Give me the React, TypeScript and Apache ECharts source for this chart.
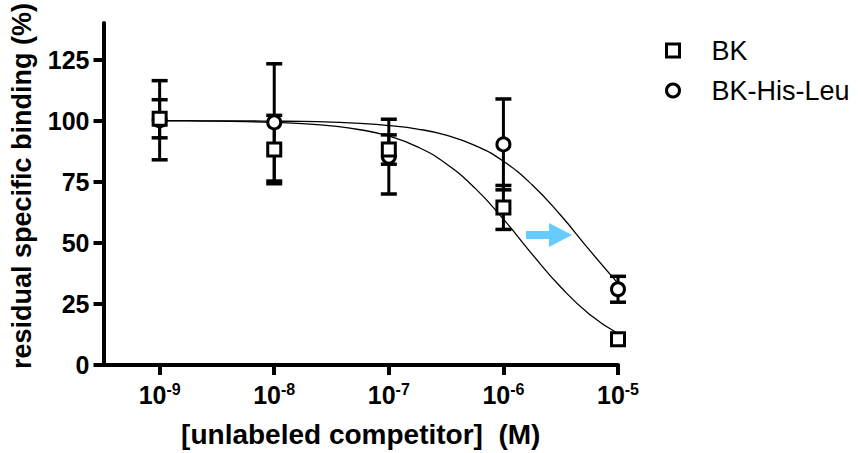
import React, { useEffect, useRef } from "react";
import * as echarts from "echarts";

// log10 of concentration (M)
const exponents = [-9, -8, -7, -6, -5];
const xTickLabels = ["-9", "-8", "-7", "-6", "-5"];
const yTicks = [0, 25, 50, 75, 100, 125];

// residual specific binding (%), mean and SEM
const bkMean = [100.8, 88.2, 88.2, 64.5, 10.5];
const bkSem = [7.8, 14, 6, 9, 1.5];
const hlMean = [100.2, 99.3, 85.3, 90.3, 31];
const hlSem = [16.2, 24, 15.3, 18.6, 5.3];

// fitted curves
const curveX = [-9, -8.75, -8.5, -8.25, -8, -7.75, -7.5, -7.25, -7, -6.75, -6.5, -6.25, -6, -5.75, -5.5, -5.25, -5];
const bkCurve = [99.9, 99.9, 99.8, 99.6, 99.3, 98.8, 97.9, 96.3, 93.7, 89.3, 82.4, 72.5, 59.7, 45.4, 31.9, 20.8, 12.9];
const hlCurve = [100, 100, 99.9, 99.9, 99.8, 99.7, 99.4, 98.9, 98.0, 96.6, 94.1, 89.9, 83.4, 73.8, 61.3, 47.1, 33.4];

const seriesNames = ["BK", "BK-His-Leu"];

const FONT = "'Liberation Sans', Arial, sans-serif";

function errorBarSeries(name: string, mean: number[], sem: number[]) {
  return {
    name: name + " error",
    type: "custom",
    z: 3,
    data: exponents.map((e, i) => [e, mean[i] - sem[i], mean[i] + sem[i]]),
    renderItem: (_params: any, api: any) => {
      const x = api.value(0);
      const lo = api.coord([x, api.value(1)]);
      const hi = api.coord([x, api.value(2)]);
      const hw = 8;
      return {
        type: "group",
        children: [
          { type: "line", shape: { x1: lo[0], y1: lo[1], x2: hi[0], y2: hi[1] }, style: { stroke: "#000", lineWidth: 3 } },
          { type: "line", shape: { x1: lo[0] - hw, y1: lo[1], x2: lo[0] + hw, y2: lo[1] }, style: { stroke: "#000", lineWidth: 3.5 } },
          { type: "line", shape: { x1: hi[0] - hw, y1: hi[1], x2: hi[0] + hw, y2: hi[1] }, style: { stroke: "#000", lineWidth: 3.5 } },
        ],
      };
    },
  };
}

export default function App() {
  const ref = useRef<HTMLDivElement>(null);
  useEffect(() => {
    if (!ref.current) return;
    const chart = echarts.init(ref.current, null, { renderer: "svg" });
    const option: any = {
      animation: false,
      backgroundColor: "#fff",
      grid: { left: 103.5, right: 240, top: 23, bottom: 87.5 },
      xAxis: {
        type: "value",
        min: -9.49,
        max: -5,
        name: "[unlabeled competitor]  (M)",
        nameLocation: "middle",
        nameGap: 55,
        nameTextStyle: { fontFamily: FONT, fontSize: 28, fontWeight: "bold", color: "#000" },
        axisLine: { show: true, onZero: false, lineStyle: { color: "#000", width: 4 } },
        axisTick: { show: true, length: 10, customValues: exponents, lineStyle: { color: "#000", width: 4 } },
        splitLine: { show: false },
        axisLabel: {
          customValues: exponents,
          margin: 16,
          formatter: (v: number) => {
            const i = exponents.indexOf(Math.round(v));
            return "{b|10}{s|" + xTickLabels[i] + "}";
          },
          rich: {
            b: { fontFamily: FONT, fontSize: 25, fontWeight: "bold", color: "#000", lineHeight: 26, verticalAlign: "bottom" },
            s: { fontFamily: FONT, fontSize: 16, fontWeight: "bold", color: "#000", lineHeight: 26, verticalAlign: "top" },
          },
        },
      },
      yAxis: {
        type: "value",
        min: 0,
        max: 140,
        name: "residual specific binding (%)",
        nameLocation: "middle",
        nameGap: 68,
        nameTextStyle: { fontFamily: FONT, fontSize: 27, fontWeight: "bold", color: "#000", padding: [0, 0, 0, 16] },
        axisLine: { show: true, lineStyle: { color: "#000", width: 4 } },
        axisTick: { show: true, length: 10, customValues: yTicks, lineStyle: { color: "#000", width: 4 } },
        splitLine: { show: false },
        axisLabel: {
          customValues: yTicks,
          margin: 14,
          fontFamily: FONT,
          fontSize: 25,
          fontWeight: "bold",
          color: "#000",
        },
      },
      legend: {
        orient: "vertical",
        left: 660,
        top: 32,
        itemGap: 13,
        itemWidth: 13,
        itemHeight: 13,
        textStyle: { fontFamily: FONT, fontSize: 27, color: "#000", padding: [0, 0, 0, 27] },
        data: [
          { name: seriesNames[0], icon: "rect", itemStyle: { color: "#fff", borderColor: "#000", borderWidth: 3 } },
          { name: seriesNames[1], icon: "circle", itemStyle: { color: "#fff", borderColor: "#000", borderWidth: 3 } },
        ],
      },
      series: [
        {
          name: "BK fit",
          type: "line",
          data: curveX.map((x, i) => [x, bkCurve[i]]),
          smooth: true,
          symbol: "none",
          z: 2,
          lineStyle: { color: "#000", width: 1.3 },
        },
        {
          name: "BK-His-Leu fit",
          type: "line",
          data: curveX.map((x, i) => [x, hlCurve[i]]),
          smooth: true,
          symbol: "none",
          z: 2,
          lineStyle: { color: "#000", width: 1.3 },
        },
        errorBarSeries(seriesNames[1], hlMean, hlSem),
        errorBarSeries(seriesNames[0], bkMean, bkSem),
        {
          name: seriesNames[1],
          type: "scatter",
          symbol: "circle",
          symbolSize: 13,
          z: 4,
          data: exponents.map((e, i) => [e, hlMean[i]]),
          itemStyle: { color: "#fff", borderColor: "#000", borderWidth: 3, opacity: 1 },
        },
        {
          name: seriesNames[0],
          type: "scatter",
          symbol: "rect",
          symbolSize: 13,
          z: 5,
          data: exponents.map((e, i) => [e, bkMean[i]]),
          itemStyle: { color: "#fff", borderColor: "#000", borderWidth: 3, opacity: 1 },
        },
      ],
      graphic: [
        {
          type: "polygon",
          z: 10,
          shape: {
            points: [
              [526, 231], [549, 231], [549, 223], [572, 235], [549, 247], [549, 239], [526, 239],
            ],
          },
          style: { fill: "#66CCFF" },
        },
      ],
    };
    chart.setOption(option);
    return () => chart.dispose();
  }, []);
  return (
    <div
      ref={ref}
      style={{ position: "absolute", left: 0, top: 0, width: 858, height: 453, background: "#fff" }}
    />
  );
}
